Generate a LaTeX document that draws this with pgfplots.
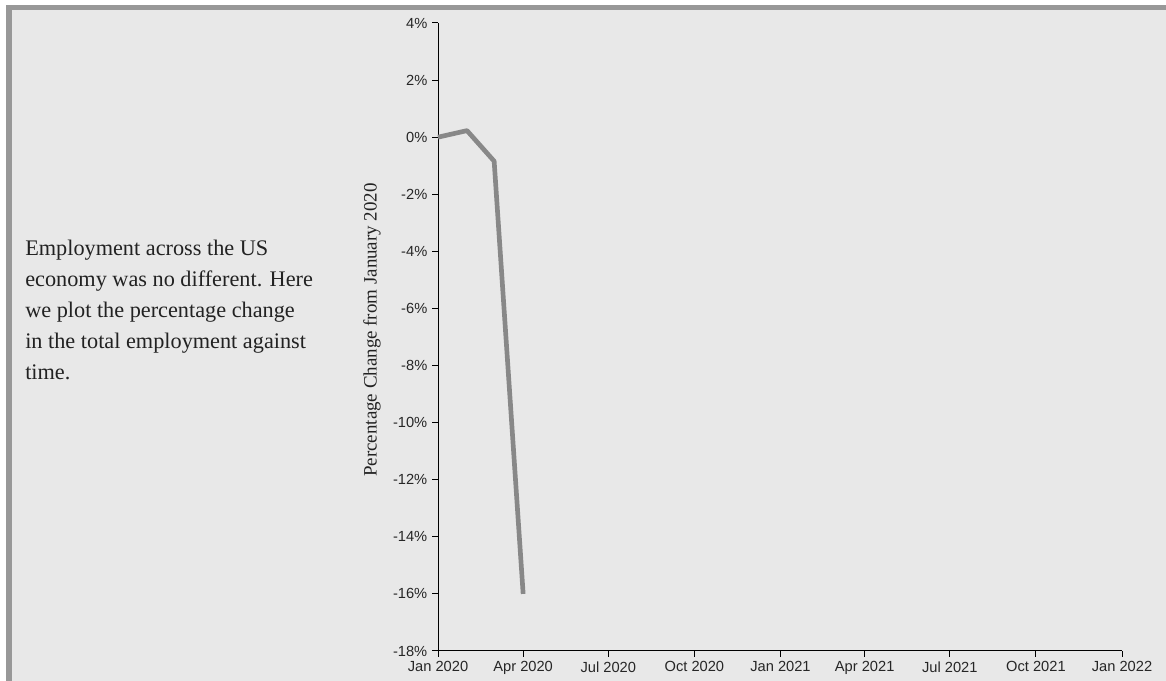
\documentclass[border=0pt]{standalone}
\usepackage{fontspec}
\usepackage{pgfplots}
\pgfplotsset{compat=1.18}
\newfontfamily\sansf{Liberation Sans}
\newfontfamily\seriff{Liberation Serif}
\definecolor{bgc}{RGB}{232,232,232}
\definecolor{bordc}{RGB}{152,152,152}
\definecolor{linec}{RGB}{136,136,136}
\definecolor{txtc}{RGB}{34,34,34}
\begin{document}
\begin{tikzpicture}[x=0.75pt,y=0.75pt]
\fill[white] (0,0) rectangle (1166,681);
\fill[bgc] (6,0) rectangle (1166,676);
\fill[bordc] (6,0) rectangle (12,676);
\fill[bordc] (6,671) rectangle (1166,676);
\begin{axis}[at={(328.5pt,22.5pt)}, anchor=south west, scale only axis,
  width=513pt, height=471pt,
  xmin=0, xmax=731, ymin=-18, ymax=4,
  axis x line*=bottom, axis y line*=left,
  axis line style={-, line width=0.75pt, black},
  tick align=outside, major tick length=4.5pt,
  tick style={black, line width=0.75pt},
  xtick={0,91,182,274,366,456,547,639,731},
  xticklabels={Jan 2020,Apr 2020,Jul 2020,Oct 2020,Jan 2021,Apr 2021,Jul 2021,Oct 2021,Jan 2022},
  ytick={-18,-16,-14,-12,-10,-8,-6,-4,-2,0,2,4},
  yticklabels={-18\%,-16\%,-14\%,-12\%,-10\%,-8\%,-6\%,-4\%,-2\%,0\%,2\%,4\%},
  tick label style={font=\sansf\fontsize{11}{13}\selectfont, text=black!85},
  clip=false]
\addplot[color=linec, line width=3.5pt, line join=round, mark=none] coordinates {(0,0) (31,0.23) (60,-0.84) (91,-16.0)};
\end{axis}
\node[rotate=90, font=\seriff\fontsize{14.2}{16}\selectfont, text=txtc] at (372,351) {Percentage Change from January 2020};
\begin{scope}[every node/.style={anchor=base west, inner sep=0pt, font=\seriff\fontsize{16.7}{18}\selectfont, text=txtc}]
\node at (25,425) {Employment across the US};
\node at (25,394) {economy was no different. Here};
\node at (25,363) {we plot the percentage change};
\node at (25,332) {in the total employment against};
\node at (25,301) {time.};
\end{scope}
\pgfresetboundingbox
\useasboundingbox (0,0) rectangle (1166,681);
\end{tikzpicture}
\end{document}
